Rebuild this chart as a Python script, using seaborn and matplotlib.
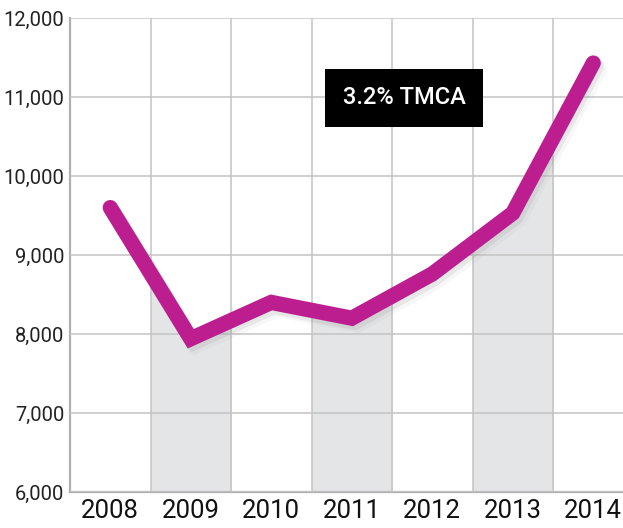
import numpy as np
import pandas as pd
import seaborn as sns
import matplotlib.pyplot as plt
import matplotlib.patheffects as pe
from matplotlib.patches import Rectangle

years = ['2008', '2009', '2010', '2011', '2012', '2013', '2014']
values = [9600, 7940, 8400, 8200, 8760, 9530, 11430]
yticks = [6000, 7000, 8000, 9000, 10000, 11000, 12000]
shaded_years = ['2009', '2011', '2013']
badge = '3.2% TMCA'

sns.set_style('white')
plt.rcParams['font.family'] = ['Roboto', 'DejaVu Sans']

df = pd.DataFrame({'pos': np.arange(len(years)), 'value': values})

fig = plt.figure(figsize=(6.23, 5.28), dpi=100)
ax = fig.add_axes([70/623, 36/528, 553/623, 474/528])

# grey columns under the line
for yr in shaded_years:
    i = years.index(yr)
    poly = ax.fill_between(df['pos'], df['value'], 6000, color='#e4e5e7', lw=0, zorder=1)
    rect = Rectangle((i - 0.5, 6000), 1, 6000, transform=ax.transData)
    poly.set_clip_path(rect)

sns.lineplot(data=df, x='pos', y='value', ax=ax, color='#bd1e8f', lw=11,
             zorder=4, solid_capstyle='round', solid_joinstyle='miter',
             path_effects=[pe.SimpleLineShadow(offset=(2, -3), shadow_color='#777777', alpha=0.12),
                           pe.SimpleLineShadow(offset=(4, -5), shadow_color='#999999', alpha=0.08),
                           pe.Normal()])

ax.set_xlim(-0.5, -0.5 + 553/80.5)
ax.set_ylim(6000, 12000)
ax.set_xticks(df['pos'])
ax.set_xticks(df['pos'][:-1] + 0.5, minor=True)
ax.set_xticklabels(years, fontsize=18.5, color='#111111')
ax.set_yticks(yticks)
ax.set_yticklabels([f'{v:,}' for v in yticks], fontsize=14.5, color='#222222')
ax.tick_params(axis='both', which='both', length=0)
ax.tick_params(axis='y', pad=4)
ax.tick_params(axis='x', pad=5)
ax.set_axisbelow(False)
ax.grid(axis='y', which='major', color='#c4c4c4', lw=1.1)
ax.grid(axis='x', which='minor', color='#c4c4c4', lw=1.1)
ax.set_xlabel('')
ax.set_ylabel('')

for s in ['top', 'right']:
    ax.spines[s].set_visible(False)
for s in ['left', 'bottom']:
    ax.spines[s].set_color('#b0b0b0')
    ax.spines[s].set_linewidth(1.6)

ax.text(3.65, 10990, badge, color='white', fontsize=17, fontweight='medium',
        ha='center', va='center', zorder=6,
        bbox=dict(boxstyle='square,pad=0.75', fc='black', ec='none'))

fig.savefig('out.png', dpi=100)
